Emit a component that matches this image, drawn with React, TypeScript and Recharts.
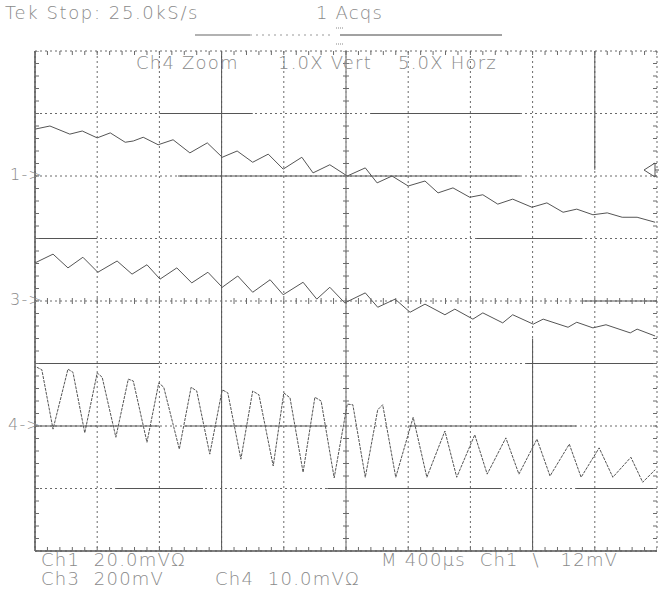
import React from "react";
import {
  ComposedChart,
  Line,
  Scatter,
  XAxis,
  YAxis,
  CartesianGrid,
  ReferenceLine,
} from "recharts";

// time in screen divisions (0..10), level in divisions from screen centre (-4..4)
const ch1Time = [
  0, 0.24, 0.56, 0.76, 1.0, 1.21, 1.45, 1.58, 1.74, 1.98, 2.22, 2.49, 2.77, 3.01,
  3.25, 3.5, 3.75, 3.99, 4.29, 4.47, 4.74, 5.02, 5.31, 5.5, 5.74, 6.0, 6.27, 6.48,
  6.72, 6.99, 7.2, 7.44, 7.68, 7.99, 8.23, 8.49, 8.71, 8.97, 9.2, 9.44, 9.68, 9.97,
];
const ch1Level = [
  2.75, 2.8, 2.67, 2.72, 2.61, 2.69, 2.54, 2.56, 2.62, 2.5, 2.58, 2.37, 2.53, 2.3,
  2.4, 2.22, 2.35, 2.11, 2.3, 2.05, 2.18, 2.0, 2.13, 1.89, 2.0, 1.84, 1.92, 1.73,
  1.81, 1.66, 1.7, 1.55, 1.63, 1.5, 1.57, 1.42, 1.47, 1.38, 1.41, 1.34, 1.34, 1.26,
];

const ch3Time = [
  0, 0.29, 0.53, 0.77, 1.01, 1.32, 1.56, 1.8, 2.01, 2.28, 2.52, 2.78, 3.01, 3.26,
  3.5, 3.78, 3.99, 4.31, 4.53, 4.74, 4.98, 5.31, 5.51, 5.79, 6.03, 6.27, 6.59, 6.75,
  7.04, 7.2, 7.52, 7.68, 8.01, 8.17, 8.57, 8.71, 8.97, 9.18, 9.57, 9.68, 9.97,
];
const ch3Level = [
  0.61, 0.75, 0.53, 0.7, 0.46, 0.64, 0.43, 0.58, 0.35, 0.53, 0.29, 0.46, 0.22, 0.4,
  0.14, 0.34, 0.1, 0.3, 0.03, 0.22, -0.03, 0.13, -0.1, 0.03, -0.18, -0.05, -0.22, -0.13,
  -0.29, -0.19, -0.35, -0.22, -0.37, -0.29, -0.42, -0.34, -0.43, -0.38, -0.51, -0.45, -0.56,
];

const ch4Time = [
  0.03, 0.11, 0.29, 0.53, 0.61, 0.8, 1.0, 1.08, 1.3, 1.5, 1.58, 1.8, 1.99, 2.07,
  2.32, 2.51, 2.6, 2.81, 3.01, 3.1, 3.31, 3.5, 3.6, 3.83, 4.0, 4.1, 4.31, 4.5, 4.6,
  4.81, 5.02, 5.11, 5.31, 5.51, 5.59, 5.8, 6.08, 6.3, 6.59, 6.78, 7.07, 7.27, 7.57,
  7.78, 8.07, 8.28, 8.59, 8.78, 9.07, 9.29, 9.58, 9.77, 9.97,
];
const ch4Level = [
  -1.06, -1.1, -2.05, -1.09, -1.14, -2.11, -1.15, -1.22, -2.18, -1.25, -1.28, -2.26,
  -1.31, -1.38, -2.37, -1.38, -1.44, -2.45, -1.42, -1.47, -2.53, -1.44, -1.5, -2.64,
  -1.47, -1.55, -2.74, -1.54, -1.6, -2.83, -1.65, -1.66, -2.82, -1.74, -1.66, -2.82,
  -1.86, -2.82, -2.08, -2.82, -2.14, -2.77, -2.19, -2.77, -2.21, -2.8, -2.29, -2.82,
  -2.35, -2.82, -2.5, -2.9, -2.7,
];

const majorX = [0, 1, 2, 3, 4, 5, 6, 7, 8, 9, 10];
const majorY = [-4, -3, -2, -1, 0, 1, 2, 3, 4];

const ch1 = ch1Time.map((t, i) => ({ t, v: ch1Level[i] }));
const ch3 = ch3Time.map((t, i) => ({ t, v: ch3Level[i] }));
const ch4 = ch4Time.map((t, i) => ({ t, v: ch4Level[i] }));

// graticule minor ticks (every 0.2 div)
const minorX = Array.from({ length: 51 }, (_, i) => +(i * 0.2).toFixed(1));
const minorY = Array.from({ length: 41 }, (_, i) => +(-4 + i * 0.2).toFixed(1));
const ticksCentreH = minorX.map((t) => ({ t, v: 0 }));
const ticksTop = minorX.map((t) => ({ t, v: 4 }));
const ticksBottom = minorX.map((t) => ({ t, v: -4 }));
const ticksCentreV = minorY.map((v) => ({ t: 5, v }));
const ticksLeft = minorY.map((v) => ({ t: 0, v }));
const ticksRight = minorY.map((v) => ({ t: 10, v }));

// solid stretches of the graticule as they show up in the screen dump
const solidSegs: [number, number, number, number][] = [
  [3, -4, 3, 4],
  [8, -4, 8, -0.6],
  [9, 2.1, 9, 4],
  [2, 3, 3.5, 3],
  [5.4, 3, 7.8, 3],
  [2.3, 2, 7.8, 2],
  [0, 1, 1, 1],
  [7.1, 1, 8.8, 1],
  [8.8, 0, 10, 0],
  [0, -1, 2, -1],
  [7.9, -1, 10, -1],
  [0, -2, 2, -2],
  [2.4, -2, 4.7, -2],
  [6, -2, 8.7, -2],
  [1.3, -3, 2.7, -3],
  [4.7, -3, 7.5, -3],
  [8.7, -3, 10, -3],
];

const GRID = "#6a6a6a";
const TRACE = "#555";

const tickShape = (dx1: number, dy1: number, dx2: number, dy2: number) => (p: any) =>
  (
    <line
      x1={p.cx + dx1}
      y1={p.cy + dy1}
      x2={p.cx + dx2}
      y2={p.cy + dy2}
      stroke={GRID}
      strokeWidth={1}
    />
  );

const txt: React.CSSProperties = {
  position: "absolute",
  fontFamily: "'DejaVu Sans', sans-serif",
  fontSize: 18,
  fontWeight: 200,
  letterSpacing: 1.2,
  color: "#8a8a8a",
  whiteSpace: "pre",
  lineHeight: "16px",
};

export default function App() {
  return (
    <div
      style={{
        position: "absolute",
        left: 0,
        top: 0,
        width: 659,
        height: 594,
        background: "#fff",
        overflow: "hidden",
      }}
    >
      <ComposedChart
        width={659}
        height={594}
        margin={{ top: 51, right: 2, bottom: 43, left: 35 }}
      >
        <XAxis
          type="number"
          dataKey="t"
          domain={[0, 10]}
          ticks={majorX}
          interval={0}
          allowDataOverflow
          hide
        />
        <YAxis
          type="number"
          domain={[-4, 4]}
          ticks={majorY}
          interval={0}
          allowDataOverflow
          hide
        />
        <CartesianGrid stroke={GRID} strokeDasharray="2 3" />
        {solidSegs.map(([x1, y1, x2, y2], i) => (
          <ReferenceLine
            key={i}
            segment={[
              { x: x1, y: y1 },
              { x: x2, y: y2 },
            ]}
            stroke="#555"
            strokeWidth={1}
          />
        ))}
        <ReferenceLine x={0} stroke="#555" strokeWidth={1.5} />
        <ReferenceLine y={-4} stroke="#555" strokeWidth={1.5} />
        <ReferenceLine x={5} stroke="#999" strokeWidth={1.5} />
        <Scatter data={ticksCentreH} dataKey="v" shape={tickShape(0, -3, 0, 3)} isAnimationActive={false} />
        <Scatter data={ticksTop} dataKey="v" shape={tickShape(0, 0, 0, 4)} isAnimationActive={false} />
        <Scatter data={ticksBottom} dataKey="v" shape={tickShape(0, -4, 0, 0)} isAnimationActive={false} />
        <Scatter data={ticksCentreV} dataKey="v" shape={tickShape(-3, 0, 3, 0)} isAnimationActive={false} />
        <Scatter data={ticksLeft} dataKey="v" shape={tickShape(0, 0, 4, 0)} isAnimationActive={false} />
        <Scatter data={ticksRight} dataKey="v" shape={tickShape(-4, 0, 0, 0)} isAnimationActive={false} />
        <Line
          data={ch1}
          dataKey="v"
          type="linear"
          stroke={TRACE}
          strokeWidth={1}
          dot={false}
          isAnimationActive={false}
        />
        <Line
          data={ch3}
          dataKey="v"
          type="linear"
          stroke={TRACE}
          strokeWidth={1}
          dot={false}
          isAnimationActive={false}
        />
        <Line
          data={ch4}
          dataKey="v"
          type="linear"
          stroke={TRACE}
          strokeWidth={1}
          strokeDasharray="3 1"
          dot={false}
          isAnimationActive={false}
        />
      </ComposedChart>

      {/* record bar and trigger level marker */}
      <svg
        width={659}
        height={594}
        style={{ position: "absolute", left: 0, top: 0, pointerEvents: "none" }}
      >
        <line x1={195} y1={35} x2={250} y2={35} stroke="#999" strokeWidth={1.5} />
        <line x1={250} y1={35} x2={330} y2={35} stroke="#999" strokeDasharray="2 4" />
        <line x1={340} y1={35} x2={502} y2={35} stroke="#444" strokeWidth={1} />
        <line x1={336} y1={28} x2={344} y2={28} stroke="#888" strokeDasharray="1 1" />
        <line x1={336} y1={44} x2={344} y2={44} stroke="#888" strokeDasharray="1 1" />
        <path d="M 655 163 L 644 170 L 655 177 Z" fill="none" stroke="#555" />
        <line x1={655} y1={170} x2={659} y2={170} stroke="#555" />
      </svg>

      <div style={{ ...txt, left: 5, top: 5, letterSpacing: 1.6 }}>Tek Stop: 25.0kS/s</div>
      <div style={{ ...txt, left: 316, top: 5 }}>1 Acqs</div>
      <div style={{ ...txt, left: 136, top: 55 }}>Ch4 Zoom</div>
      <div style={{ ...txt, left: 278, top: 55 }}>1.0X Vert</div>
      <div style={{ ...txt, left: 398, top: 55 }}>5.0X Horz</div>
      <div style={{ ...txt, left: 10, top: 167, fontSize: 16 }}>1-&gt;</div>
      <div style={{ ...txt, left: 10, top: 292, fontSize: 16 }}>3-&gt;</div>
      <div style={{ ...txt, left: 8, top: 417, fontSize: 16 }}>4-&gt;</div>
      <div style={{ ...txt, left: 41, top: 552 }}>{"Ch1  20.0mVΩ"}</div>
      <div style={{ ...txt, left: 381, top: 552 }}>{"M 400µs  Ch1  \\   12mV"}</div>
      <div style={{ ...txt, left: 41, top: 571 }}>{"Ch3  200mV"}</div>
      <div style={{ ...txt, left: 215, top: 571 }}>{"Ch4  10.0mVΩ"}</div>
    </div>
  );
}
